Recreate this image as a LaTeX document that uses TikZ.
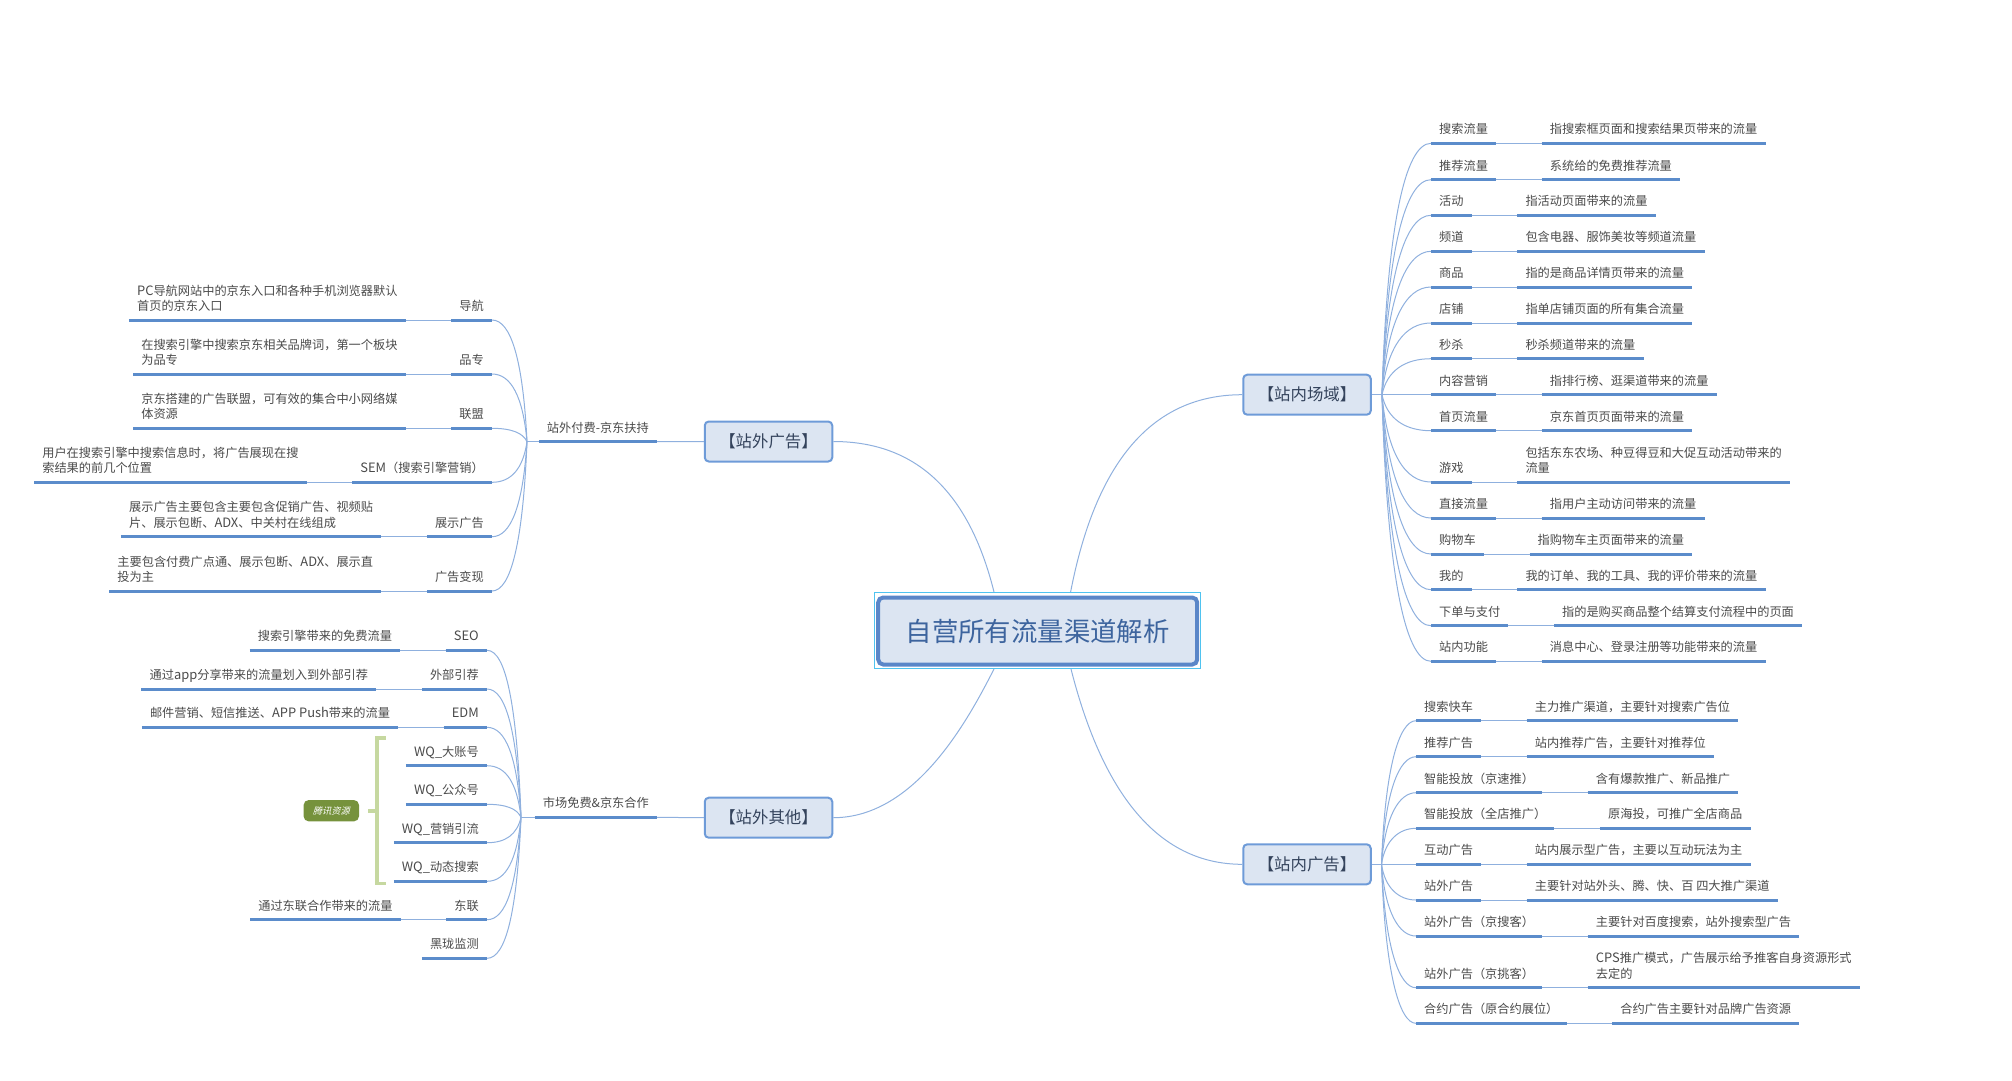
\documentclass[tikz,border=0pt]{standalone}
\usepackage{fontspec}
\usepackage{xcolor}
\setmainfont{Noto Sans CJK SC}
\newfontfamily\tagfont[FakeSlant=0.25]{Noto Sans CJK SC}
\usepackage{tikz}
\usetikzlibrary{positioning}
\definecolor{linelight}{HTML}{8FB0DE}
\definecolor{linedark}{HTML}{5B8CCB}
\definecolor{boxfill}{HTML}{DCE5F2}
\definecolor{boxline}{HTML}{6E9BD8}
\definecolor{rootline}{HTML}{5A86C8}
\definecolor{selline}{HTML}{4FC3F0}
\definecolor{roottext}{HTML}{3D649E}
\definecolor{boxtext}{HTML}{34435C}
\definecolor{topictext}{HTML}{4A4A4A}
\definecolor{bracegreen}{HTML}{C6D8A0}
\definecolor{taggreen}{HTML}{76923C}
\newcommand{\lat}[1]{{\fontsize{12.9}{15.3}\selectfont #1}}
\tikzset{
  topic/.style={rectangle,inner xsep=8pt,inner ysep=4.8pt,align=left,text=topictext,
    font=\fontsize{12.2}{15.3}\selectfont,execute at end node=\strut},
  under/.style={draw=linedark,line width=3pt},
  thin/.style={draw=linelight,line width=1pt},
  mainbox/.style={draw=boxline,fill=boxfill,line width=2pt,rounded corners=4pt,
    minimum width=127.5pt,minimum height=40pt,text=boxtext,font=\fontsize{16.4}{20}\selectfont},
  rootbox/.style={draw=rootline,fill=boxfill,line width=4pt,rounded corners=5pt,
    minimum width=319pt,minimum height=67pt,text=roottext,font=\fontsize{26.4}{30}\selectfont},
  selbox/.style={draw=selline,line width=1.7pt,minimum width=326pt,minimum height=76pt}
}
\begin{document}
\begin{tikzpicture}[x=1pt,y=-1pt]
  \useasboundingbox (0,0) rectangle (2012,1080);

  % centre and the four main topics
  \node[selbox] (rootsel) at (1037.5,630.5) {};
  \node[rootbox] (root) at (1037.7,631) {自营所有流量渠道解析};
  \node[mainbox] (outad) at (768.5,441.5) {【站外广告】};
  \node[mainbox] (outother) at (768.5,817.7) {【站外其他】};
  \node[mainbox] (inarea) at (1307,394.7) {【站内场域】};
  \node[mainbox] (inad) at (1307,864.3) {【站内广告】};

  \coordinate (rootTL) at (994,592);
  \coordinate (rootTR) at (1070.6,592);
  \coordinate (rootBL) at (994,669);
  \coordinate (rootBR) at (1071,669);
  \draw[thin] (rootTL) .. controls (969,491.6) and (916,441.5) .. (outad.east);
  \draw[thin] (rootBL) .. controls (969,718) and (916,817.7) .. (outother.east);
  \draw[thin] (rootTR) .. controls (1096,460.5) and (1153,394.7) .. (inarea.west);
  \draw[thin] (rootBR) .. controls (1104,799) and (1161.5,864.3) .. (inad.west);

  % left top: paid
  \node[topic,anchor=south east] (paid) at (657,441.7) {站外付费-京东扶持};
  \coordinate (paidbus) at (527,441.7);
  \draw[under] (paid.south west) -- (paid.south east);
  \draw[thin] (paid.south east) -- (outad.west);
  \draw[thin] (paidbus) -- (paid.south west);
  \foreach \y/\lab/\des [count=\i] in {
    320/导航/{\lat{PC}导航网站中的京东入口和各种手机浏览器默认\\首页的京东入口},
    374/品专/{在搜索引擎中搜索京东相关品牌词，第一个板块\\为品专},
    428.3/联盟/{京东搭建的广告联盟，可有效的集合中小网络媒\\体资源},
    482.3/{\lat{SEM}（搜索引擎营销）}/{用户在搜索引擎中搜索信息时，将广告展现在搜\\索结果的前几个位置},
    536.7/展示广告/{展示广告主要包含主要包含促销广告、视频贴\\片、展示包断、\lat{ADX}、中关村在线组成},
    591/广告变现/{主要包含付费广点通、展示包断、\lat{ADX}、展示直\\投为主}}
  {
    \node[topic,anchor=south east] (pk\i) at (492,\y) {\lab};
    \node[topic,anchor=south east,xshift=-45.5pt] (pd\i) at (pk\i.south west) {\des};
    \draw[thin] (paidbus) .. controls (523,{441.7+(\y-441.7)*0.67}) and (511,\y) .. (pk\i.south east);
    \draw[thin] (pd\i.south east) -- (pk\i.south west);
    \draw[under] (pk\i.south west) -- (pk\i.south east);
    \draw[under] (pd\i.south west) -- (pd\i.south east);
  }

  % left bottom: free
  \node[topic,anchor=south east] (free) at (657,817.3) {市场免费\&京东合作};
  \coordinate (freebus) at (521,817.3);
  \draw[under] (free.south west) -- (free.south east);
  \draw[thin] (free.south east) -- (outother.west);
  \draw[thin] (freebus) -- (free.south west);
  \foreach \y/\lab/\des [count=\i] in {
    650.3/{\lat{SEO}}/搜索引擎带来的免费流量,
    689/外部引荐/{通过\lat{app}分享带来的流量划入到外部引荐},
    727.3/{\lat{EDM}}/{邮件营销、短信推送、\lat{APP Push}带来的流量},
    919.7/东联/通过东联合作带来的流量}
  {
    \node[topic,anchor=south east] (fk\i) at (487,\y) {\lab};
    \node[topic,anchor=south east,xshift=-45.5pt] (fd\i) at (fk\i.south west) {\des};
    \draw[thin] (freebus) .. controls (517,{817.3+(\y-817.3)*0.67}) and (506,\y) .. (fk\i.south east);
    \draw[thin] (fd\i.south east) -- (fk\i.south west);
    \draw[under] (fk\i.south west) -- (fk\i.south east);
    \draw[under] (fd\i.south west) -- (fd\i.south east);
  }
  \foreach \y/\lab [count=\i] in {
    765.7/{\lat{WQ\_}大账号},
    804.3/{\lat{WQ\_}公众号},
    842.7/{\lat{WQ\_}营销引流},
    881.3/{\lat{WQ\_}动态搜索},
    958.3/黑珑监测}
  {
    \node[topic,anchor=south east] (wq\i) at (487,\y) {\lab};
    \draw[thin] (freebus) .. controls (517,{817.3+(\y-817.3)*0.67}) and (506,\y) .. (wq\i.south east);
    \draw[under] (wq\i.south west) -- (wq\i.south east);
  }

  % summary bracket
  \coordinate (braceT) at (385.7,737.7);
  \coordinate (braceB) at (385.7,883.3);
  \coordinate (braceM) at (377,810.7);
  \coordinate (braceE) at (368,810.7);
  \draw[draw=bracegreen,line width=3.6pt] (braceT) -- (377,737.7) -- (377,883.3) -- (braceB);
  \draw[draw=bracegreen,line width=3.6pt] (braceM) -- (braceE);
  \node[fill=taggreen,rounded corners=5pt,minimum width=55.4pt,minimum height=21.3pt,inner sep=0pt,
    text=white,font=\tagfont\fontsize{9.2}{11}\selectfont] (tag) at (331.3,810.7) {腾讯资源};

  % right top: on site areas
  \coordinate (areabus) at (1382,394.7);
  \draw[thin] (inarea.east) -- (areabus);
  \foreach \y/\lab/\des [count=\i] in {
    143.3/搜索流量/指搜索框页面和搜索结果页带来的流量,
    179.7/推荐流量/系统给的免费推荐流量,
    215.3/活动/指活动页面带来的流量,
    251.3/频道/包含电器、服饰美妆等频道流量,
    287/商品/指的是商品详情页带来的流量,
    323/店铺/指单店铺页面的所有集合流量,
    358.7/秒杀/秒杀频道带来的流量,
    394.7/内容营销/指排行榜、逛渠道带来的流量,
    430.7/首页流量/京东首页页面带来的流量,
    482/游戏/{包括东东农场、种豆得豆和大促互动活动带来的\\流量},
    518/直接流量/指用户主动访问带来的流量,
    554/购物车/指购物车主页面带来的流量,
    589.7/我的/我的订单、我的工具、我的评价带来的流量,
    625.7/下单与支付/指的是购买商品整个结算支付流程中的页面,
    661.3/站内功能/消息中心、登录注册等功能带来的流量}
  {
    \node[topic,anchor=south west] (ak\i) at (1431,\y) {\lab};
    \node[topic,anchor=south west,xshift=45.5pt] (ad\i) at (ak\i.south east) {\des};
    \draw[thin] (areabus) .. controls (1387,{394.7+(\y-394.7)*0.67}) and (1405,\y) .. (ak\i.south west);
    \draw[thin] (ak\i.south east) -- (ad\i.south west);
    \draw[under] (ak\i.south west) -- (ak\i.south east);
    \draw[under] (ad\i.south west) -- (ad\i.south east);
  }

  % right bottom: on site ads
  \coordinate (adbus) at (1381.5,864.3);
  \draw[thin] (inad.east) -- (adbus);
  \foreach \y/\lab/\des [count=\i] in {
    720.7/搜索快车/主力推广渠道，主要针对搜索广告位,
    756.7/推荐广告/站内推荐广告，主要针对推荐位,
    792.7/智能投放（京速推）/含有爆款推广、新品推广,
    828.3/智能投放（全店推广）/原海投，可推广全店商品,
    864.3/互动广告/站内展示型广告，主要以互动玩法为主,
    900/站外广告/{主要针对站外头、腾、快、百 四大推广渠道},
    936/站外广告（京搜客）/主要针对百度搜索，站外搜索型广告,
    987.7/站外广告（京挑客）/{\lat{CPS}推广模式，广告展示给予推客自身资源形式\\去定的},
    1023.3/合约广告（原合约展位）/合约广告主要针对品牌广告资源}
  {
    \node[topic,anchor=south west] (bk\i) at (1416,\y) {\lab};
    \node[topic,anchor=south west,xshift=45.5pt] (bd\i) at (bk\i.south east) {\des};
    \draw[thin] (adbus) .. controls (1385,{864.3+(\y-864.3)*0.67}) and (1399,\y) .. (bk\i.south west);
    \draw[thin] (bk\i.south east) -- (bd\i.south west);
    \draw[under] (bk\i.south west) -- (bk\i.south east);
    \draw[under] (bd\i.south west) -- (bd\i.south east);
  }
\end{tikzpicture}
\end{document}
